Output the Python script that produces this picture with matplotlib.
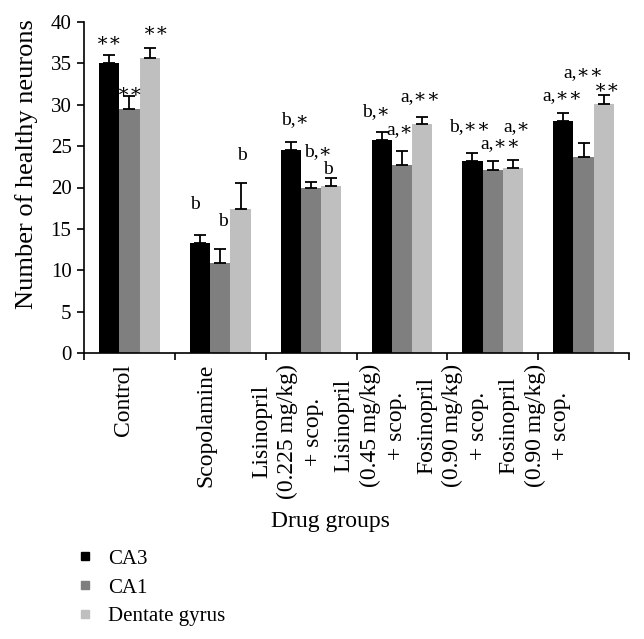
import matplotlib
matplotlib.use("Agg")
import matplotlib.pyplot as plt
from matplotlib.lines import Line2D
import numpy as np

plt.rcParams['font.family'] = ['Liberation Serif', 'DejaVu Serif']

categories = ["Control", "Scopolamine",
              "Lisinopril\n(0.225 mg/kg)\n+ scop.",
              "Lisinopril\n(0.45 mg/kg)\n+ scop.",
              "Fosinopril\n(0.90 mg/kg)\n+ scop.",
              "Fosinopril\n(0.90 mg/kg)\n+ scop."]
series = ["CA3", "CA1", "Dentate gyrus"]
ca3 = [35.0, 13.3, 24.5, 25.7, 23.2, 28.0]
ca1 = [29.5, 10.9, 19.9, 22.7, 22.1, 23.7]
dg = [35.7, 17.4, 20.2, 27.7, 22.4, 30.1]
ca3_err = [1.0, 1.0, 1.0, 1.0, 1.0, 1.0]
ca1_err = [1.5, 1.7, 0.8, 1.7, 1.1, 1.7]
dg_err = [1.1, 3.1, 0.9, 0.85, 0.9, 1.1]
colors = ["#000000", "#7f7f7f", "#bfbfbf"]

# significance labels: (text, x in category units, y in data units)
ann_text = ["∗∗", "∗∗", "∗∗",
            "b", "b", "b",
            "b,∗", "b,∗", "b",
            "b,∗", "a,∗", "a,∗∗",
            "b,∗∗", "a,∗∗", "a,∗",
            "a,∗∗", "a,∗∗", "∗∗"]
ann_x = [0.275, 0.506, 0.80,
         1.222, 1.53, 1.736,
         2.323, 2.58, 2.69,
         3.215, 3.479, 3.699,
         4.25, 4.58, 4.767,
         5.263, 5.494, 5.758]
ann_y = [37.7, 31.5, 38.9,
         17.9, 15.9, 23.85,
         28.2, 24.3, 22.2,
         29.2, 27.0, 31.0,
         27.4, 25.3, 27.4,
         31.1, 33.9, 32.0]

fig = plt.figure(figsize=(6.44, 6.39), dpi=100)
ax = fig.add_axes([84/644, 1-353/639, (629-84)/644, (353-22)/639])

n = len(categories)
centers = np.arange(n) + 0.5
w = 0.223
vals = [ca3, ca1, dg]
errs = [ca3_err, ca1_err, dg_err]
for k in range(3):
    xs = centers + (k - 1) * w
    ax.bar(xs, vals[k], width=w, color=colors[k], edgecolor='none', zorder=2)
    ax.errorbar(xs, vals[k], yerr=[np.zeros(n), errs[k]], fmt='none',
                ecolor='black', elinewidth=1.3, capsize=4, capthick=1.3, zorder=3)

ax.set_xlim(0, n)
ax.set_ylim(0, 40)
ax.set_yticks(np.arange(0, 41, 5))
ax.tick_params(axis='y', direction='out', length=5, width=1.2, labelsize=15, pad=4)
ax.set_xticks(np.arange(0, n + 1))
ax.set_xticklabels([])
ax.tick_params(axis='x', which='major', direction='out', length=5, width=1.2)
label_pos = 0.43 + 0.907 * np.arange(n)
ax.set_xticks(label_pos, minor=True)
ax.set_xticklabels(categories, minor=True, rotation=90, ha='center', va='top',
                   multialignment='center', fontsize=17, linespacing=1.3)
ax.tick_params(axis='x', which='minor', length=0, pad=8)
for s in ['top', 'right']:
    ax.spines[s].set_visible(False)
for s in ['left', 'bottom']:
    ax.spines[s].set_linewidth(1.2)

for t, x, y in zip(ann_text, ann_x, ann_y):
    ax.text(x, y, t, ha='center', va='center', fontsize=14, zorder=4)

fig.text(27/644, 1-164/639, "Number of healthy neurons", rotation=90,
         ha='center', va='center', fontsize=19)
fig.text(330/644, 1-522/639, "Drug groups", ha='center', va='center', fontsize=17)

handles = [Line2D([], [], marker='s', linestyle='none', color=c, markersize=6) for c in colors]
fig.legend(handles, series, loc='upper left', bbox_to_anchor=(77/644, 1-549/639),
           frameon=False, fontsize=15, handlelength=0.8, handletextpad=0.7,
           labelspacing=0.45, borderaxespad=0, borderpad=0)

fig.savefig("out.png", dpi=100)
